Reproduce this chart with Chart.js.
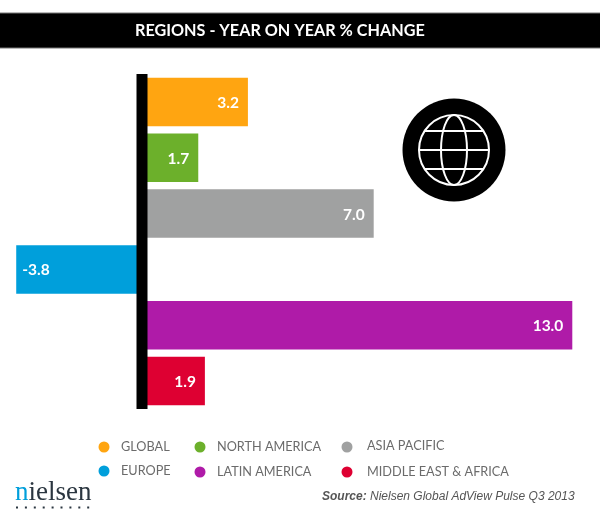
<!DOCTYPE html>
<html><head><meta charset="utf-8">
<style>html,body{margin:0;padding:0;background:#fff}#w{position:relative;width:600px;height:519px}</style>
<script src="https://cdn.jsdelivr.net/npm/chart.js@4"></script></head>
<body><div id="w"><canvas id="c" width="600" height="519"></canvas></div>
<script>
const categories = ["GLOBAL","NORTH AMERICA","ASIA PACIFIC","EUROPE","LATIN AMERICA","MIDDLE EAST & AFRICA"];
const values = [3.2,1.7,7.0,-3.8,13.0,1.9];
const colors = ["#FFA511","#6CB02B","#A0A1A1","#009FDB","#AF1BA8","#DE0032"];
const titleText = "REGIONS - YEAR ON YEAR % CHANGE";
const sourceLabel = "Source:";
const sourceText = " Nielsen Global AdView Pulse Q3 2013";
const legendSlots = [[104,447,121],[200,447,217],[347,447,367],[104,471,121],[200,472,217],[347,472,367]];

const decor = {
  id:"decor",
  beforeDraw(ch){
    const c=ch.ctx; c.save();
    c.fillStyle="#000"; c.fillRect(0,13,600,35);
    c.fillStyle="#777"; c.fillRect(0,12.5,600,1); c.fillRect(0,47.5,600,1);
    c.fillStyle="#fff"; c.font="bold 16.2px Lato"; c.textAlign="left"; c.textBaseline="middle";
    c.fillText(titleText,135,31);
    c.restore();
  },
  afterDatasetsDraw(ch){
    const c=ch.ctx, x0=ch.scales.x.getPixelForValue(0), a=ch.chartArea;
    c.save();
    c.fillStyle="#000"; c.fillRect(x0-5.5,a.top,11,a.bottom-a.top);
    c.font="bold 15.5px Lato"; c.fillStyle="#fff"; c.textBaseline="middle";
    ch.getDatasetMeta(0).data.forEach((b,i)=>{
      const v=values[i], s=v.toFixed(1);
      if(v>=0){c.textAlign="right";c.fillText(s,b.x-9,b.y+1);}
      else{c.textAlign="left";c.fillText(s,b.x+6,b.y+1);}
    });
    const gx=454,gy=150,R=51.5,r=35;
    c.beginPath();c.arc(gx,gy,R,0,Math.PI*2);c.fillStyle="#000";c.fill();
    c.strokeStyle="#fff";c.lineWidth=2;
    c.beginPath();c.arc(gx,gy,r,0,Math.PI*2);c.stroke();
    c.beginPath();c.ellipse(gx,gy,13,r,0,0,Math.PI*2);c.stroke();
    c.beginPath();
    c.moveTo(gx-r,gy);c.lineTo(gx+r,gy);
    c.moveTo(gx-29,gy-19);c.lineTo(gx+29,gy-19);
    c.moveTo(gx-29,gy+19);c.lineTo(gx+29,gy+19);
    c.stroke();
    c.textAlign="left";c.textBaseline="middle";c.font="12.7px Lato";
    categories.forEach((t,i)=>{
      const [dx,dy,tx]=legendSlots[i];
      c.beginPath();c.arc(dx,dy,5.5,0,Math.PI*2);c.fillStyle=colors[i];c.fill();
      c.fillStyle="#6b6b6b";c.fillText(t,tx,dy-(i===2?1:0));
    });
    c.fillStyle="#555";c.font="italic bold 12px 'Liberation Sans'";
    c.fillText(sourceLabel,322,497);
    const w=c.measureText(sourceLabel).width;
    c.font="italic 12px 'Liberation Sans'";
    c.fillText(sourceText,322+w,497);
    c.font="27px 'Liberation Serif'";c.fillStyle="#009FDB";c.fillText("n",15,493);
    const nw=c.measureText("n").width;
    c.fillStyle="#2b3640";c.fillText("ielsen",15+nw,493);
    for(let i=0;i<9;i++){c.fillRect(16+i*8.9,506.5,2,2);}
    c.restore();
  }
};

new Chart(document.getElementById("c"),{
  type:"bar",
  data:{labels:categories,datasets:[{data:values,backgroundColor:colors,borderWidth:0,
    categoryPercentage:1,barPercentage:0.87}]},
  options:{
    indexAxis:"y",responsive:false,animation:false,
    layout:{padding:{top:74,bottom:110,left:0,right:0}},
    plugins:{legend:{display:false},tooltip:{enabled:false}},
    scales:{
      x:{display:false,min:-4.29,max:13.837},
      y:{display:false,grid:{display:false}}
    }
  },
  plugins:[decor]
});
</script></body></html>
